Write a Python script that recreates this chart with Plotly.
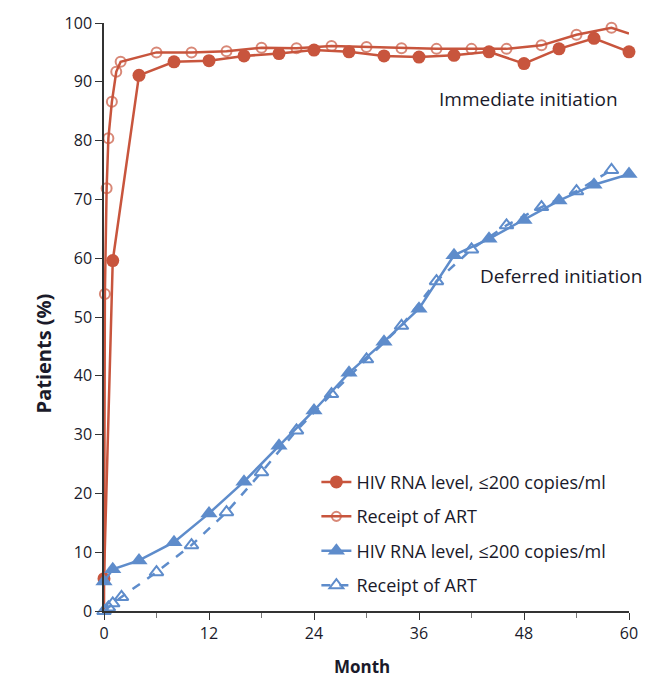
import plotly.graph_objects as go

# Immediate initiation
imm_rna_month = [0, 1, 4, 8, 12, 16, 20, 24, 28, 32, 36, 40, 44, 48, 52, 56, 60]
imm_rna_pct = [5.5, 59.6, 91.1, 93.4, 93.6, 94.4, 94.8, 95.4, 95.1, 94.4, 94.2, 94.5, 95.1, 93.1, 95.6, 97.4, 95.1]

imm_art_month = [0, 0.1, 0.3, 0.5, 0.9, 1.4, 1.9, 6, 10, 14, 18, 22, 26, 30, 34, 38, 42, 46, 50, 54, 58, 60]
imm_art_pct = [0, 53.9, 71.9, 80.4, 86.6, 91.7, 93.4, 95.0, 95.0, 95.2, 95.8, 95.7, 96.1, 95.9, 95.7, 95.6, 95.6, 95.6, 96.2, 98.0, 99.2, 98.2]

# Deferred initiation
def_rna_month = [0, 1, 4, 8, 12, 16, 20, 24, 28, 32, 36, 40, 44, 48, 52, 56, 60]
def_rna_pct = [5.0, 7.1, 8.6, 11.7, 16.6, 22.0, 28.1, 34.1, 40.5, 45.8, 51.4, 60.5, 63.3, 66.5, 69.8, 72.5, 74.3]

def_art_month = [0, 0.5, 1, 2, 6, 10, 14, 18, 22, 26, 30, 34, 38, 42, 46, 50, 54, 58]
def_art_pct = [0, 0.6, 1.3, 2.4, 6.6, 11.2, 16.8, 23.6, 30.7, 36.9, 42.8, 48.5, 56.1, 61.5, 65.6, 68.7, 71.4, 75.0]

x_ticks = [0, 12, 24, 36, 48, 60]
y_ticks = [0, 10, 20, 30, 40, 50, 60, 70, 80, 90, 100]

RED = "#C8553D"
BLUE = "#5E8CCB"
FONT = "Open Sans"
TXT = "#1a1a2a"

fig = go.Figure()

fig.add_trace(go.Scatter(
    x=imm_rna_month, y=imm_rna_pct, mode="lines+markers",
    name="HIV RNA level, ≤200 copies/ml", legendgroup="g1",
    line=dict(color=RED, width=2.5),
    marker=dict(symbol="circle", size=13, color=RED),
    cliponaxis=False,
))
art_sizes = [0] + [10] * (len(imm_art_month) - 2) + [0]
fig.add_trace(go.Scatter(
    x=imm_art_month, y=imm_art_pct, mode="lines+markers",
    name="Receipt of ART", legendgroup="g2",
    line=dict(color=RED, width=2.5),
    marker=dict(symbol="circle-open", size=art_sizes, color=RED, line=dict(width=2)),
    cliponaxis=False,
))
fig.add_trace(go.Scatter(
    x=def_rna_month, y=def_rna_pct, mode="lines+markers",
    name="HIV RNA level, ≤200 copies/ml", legendgroup="g3",
    line=dict(color=BLUE, width=2.5),
    marker=dict(symbol="triangle-up", size=15, color=BLUE),
    cliponaxis=False,
))
fig.add_trace(go.Scatter(
    x=def_art_month, y=def_art_pct, mode="lines+markers",
    name="Receipt of ART", legendgroup="g4",
    line=dict(color=BLUE, width=2.5, dash="dash"),
    marker=dict(symbol="triangle-up-open", size=12, color=BLUE, line=dict(width=2)),
    cliponaxis=False,
))

L, R, T, B = 104, 17, 20, 80
plot_w = 650 - L - R
plot_h = 691 - T - B

def px_x(p):
    return (p - L) / plot_w

def px_y(p):
    return (691 - B - p) / plot_h

fig.update_layout(
    width=650, height=691,
    margin=dict(l=L, r=R, t=T, b=B),
    paper_bgcolor="white", plot_bgcolor="white",
    font=dict(family=FONT, size=16, color=TXT),
    showlegend=True,
    legend=dict(
        x=px_x(318), y=px_y(463), xanchor="left", yanchor="top",
        font=dict(size=18, color=TXT), tracegroupgap=8,
        bgcolor="rgba(0,0,0,0)", itemwidth=30,
    ),
    xaxis=dict(
        range=[0, 60], tickmode="array", tickvals=x_ticks,
        showline=True, linecolor="#333", linewidth=1.5,
        ticks="outside", ticklen=7, tickcolor="#333",
        minor=dict(tickvals=[6, 18, 30, 42, 54], ticks="outside", ticklen=5, tickcolor="#777"),
        showgrid=False, zeroline=False,
        tickfont=dict(size=16, color=TXT),
    ),
    yaxis=dict(
        range=[0, 100], tickmode="array", tickvals=y_ticks,
        showline=True, linecolor="#333", linewidth=1.5,
        ticks="outside", ticklen=7, tickcolor="#333",
        showgrid=False, zeroline=False,
        tickfont=dict(size=16, color=TXT),
    ),
    annotations=[
        dict(text="Immediate initiation", x=48.5, y=87, xref="x", yref="y",
             showarrow=False, font=dict(size=19, color=TXT)),
        dict(text="Deferred initiation", x=52.2, y=57, xref="x", yref="y",
             showarrow=False, font=dict(size=19, color=TXT)),
        dict(text="<b>Patients (%)</b>", x=px_x(27), y=px_y(352), xref="paper", yref="paper",
             showarrow=False, textangle=-90, font=dict(size=20, color=TXT)),
        dict(text="<b>Month</b>", x=px_x(364), y=px_y(680), xref="paper", yref="paper",
             showarrow=False, font=dict(size=17, color=TXT)),
    ],
)

fig.write_html("out.html")
